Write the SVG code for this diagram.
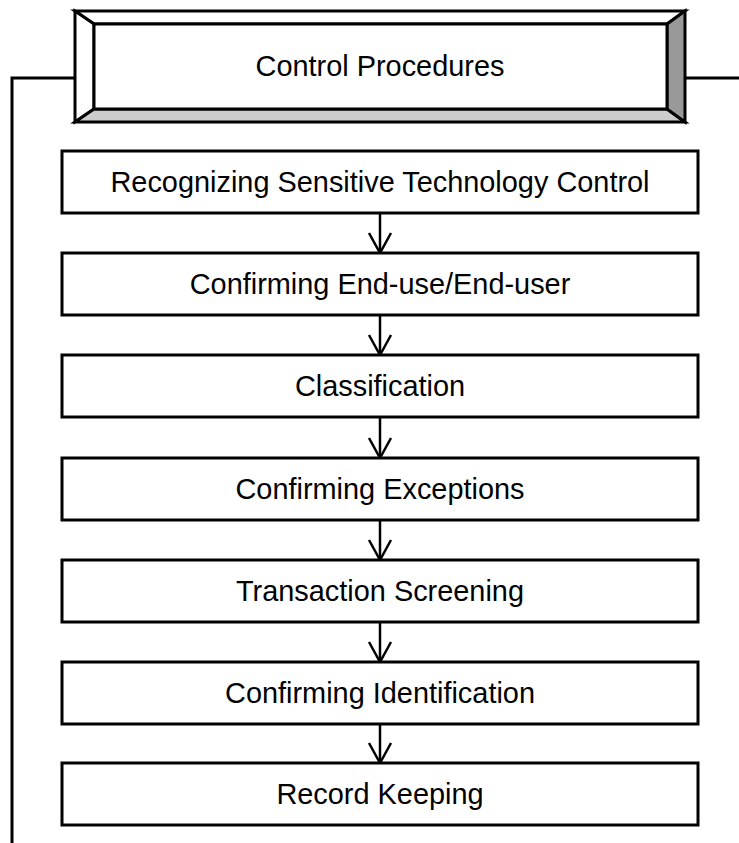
<svg xmlns="http://www.w3.org/2000/svg" width="739" height="843" viewBox="0 0 739 843">
<style>
.box{fill:#fff;stroke:#000;stroke-width:3}
.bev{stroke:#000;stroke-width:3;stroke-linejoin:miter}
.t{font-family:"Liberation Sans",Arial,sans-serif;font-size:28.9px;fill:#000;text-anchor:middle}
.ln{fill:none;stroke:#000;stroke-width:3}
.ar{fill:none;stroke:#000;stroke-width:2.5}
</style>
<defs>
<marker id="ah" markerWidth="24" markerHeight="26" viewBox="-22 -13 24 26" refX="0" refY="0" orient="auto" markerUnits="userSpaceOnUse">
<path d="M-20,-11 L0,0 L-20,11" fill="none" stroke="#000" stroke-width="2.5"/>
</marker>
</defs>
<g id="connectors">
<polyline class="ln" points="75,78 12,78 12,843"/>
<line class="ln" x1="685" y1="78" x2="739" y2="78"/>
<line class="ln" x1="94" y1="78" x2="97" y2="78"/>
<line class="ar" x1="380" y1="213" x2="380" y2="253" marker-end="url(#ah)"/>
<line class="ar" x1="380" y1="315" x2="380" y2="355" marker-end="url(#ah)"/>
<line class="ar" x1="380" y1="417" x2="380" y2="458" marker-end="url(#ah)"/>
<line class="ar" x1="380" y1="520" x2="380" y2="560" marker-end="url(#ah)"/>
<line class="ar" x1="380" y1="622" x2="380" y2="662" marker-end="url(#ah)"/>
<line class="ar" x1="380" y1="724" x2="380" y2="763" marker-end="url(#ah)"/>
</g>
<g id="control-procedures">
<polygon class="bev" fill="#fff" points="75,11 685,11 667,24 94,24"/>
<polygon class="bev" fill="#fff" points="75,11 94,24 94,109 75,122"/>
<polygon class="bev" fill="#cccccc" points="75,122 94,109 667,109 685,122"/>
<polygon class="bev" fill="#999999" points="685,11 685,122 667,109 667,24"/>
<rect class="box" x="94" y="24" width="573" height="85"/>
<text class="t" x="380" y="76">Control Procedures</text>
</g>
<g id="n1"><rect class="box" x="62" y="151" width="636" height="62"/><text class="t" x="380" y="192">Recognizing Sensitive Technology Control</text></g>
<g id="n2"><rect class="box" x="62" y="253" width="636" height="62"/><text class="t" x="380" y="294">Confirming End-use/End-user</text></g>
<g id="n3"><rect class="box" x="62" y="355" width="636" height="62"/><text class="t" x="380" y="396">Classification</text></g>
<g id="n4"><rect class="box" x="62" y="458" width="636" height="62"/><text class="t" x="380" y="499">Confirming Exceptions</text></g>
<g id="n5"><rect class="box" x="62" y="560" width="636" height="62"/><text class="t" x="380" y="601">Transaction Screening</text></g>
<g id="n6"><rect class="box" x="62" y="662" width="636" height="62"/><text class="t" x="380" y="703">Confirming Identification</text></g>
<g id="n7"><rect class="box" x="62" y="763" width="636" height="62"/><text class="t" x="380" y="804">Record Keeping</text></g>
</svg>
